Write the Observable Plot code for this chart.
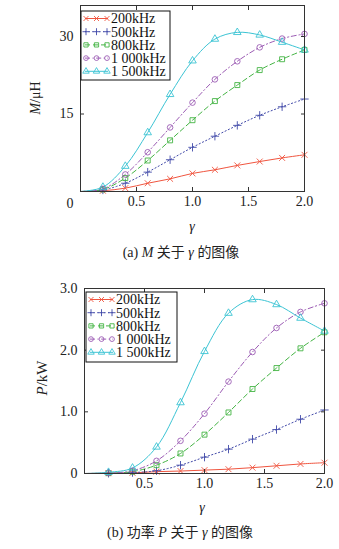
<!DOCTYPE html>
<html><head><meta charset="utf-8">
<script src="https://cdn.jsdelivr.net/npm/d3@7"></script>
<script src="https://cdn.jsdelivr.net/npm/@observablehq/plot@0.6"></script>
<style>
body{margin:0;background:#fff;}
#wrap{position:relative;width:339px;height:549px;font-family:"Liberation Serif","Times New Roman",Tinos,"DejaVu Serif","Noto Sans CJK SC",serif;color:#222;overflow:hidden;}
.abs{position:absolute;white-space:nowrap;line-height:1;}
.chart{position:absolute;left:0;}
</style></head><body><div id="wrap"></div>
<script>
// ---- data ----
const gamma = [0, 0.2, 0.4, 0.6, 0.8, 1.0, 1.2, 1.4, 1.6, 1.8, 2.0];
const series = ["200kHz", "500kHz", "800kHz", "1 000kHz", "1 500kHz"];
// M (μH)
const M200  = [0, 0.15, 0.65, 1.6, 2.45, 3.5, 4.2, 5.05, 5.8, 6.5, 7.1];
const M500  = [0, 0.3, 1.6, 3.75, 6.15, 8.55, 10.7, 12.8, 14.75, 16.4, 17.9];
const M800  = [0, 0.4, 2.6, 6.0, 9.9, 13.8, 17.5, 20.6, 23.5, 25.6, 27.4];
const M1000 = [0, 0.5, 3.3, 7.6, 12.4, 17.2, 21.7, 25.2, 27.9, 29.6, 30.5];
const M1500 = [0, 0.85, 4.9, 11.4, 18.8, 25.3, 29.5, 30.8, 30.3, 28.9, 27.4];
// P (kW)
const P200  = [0, 0.005, 0.01, 0.03, 0.04, 0.055, 0.07, 0.095, 0.125, 0.155, 0.175];
const P500  = [0, 0.003, 0.015, 0.045, 0.135, 0.265, 0.395, 0.557, 0.713, 0.88, 1.03];
const P800  = [0, 0.005, 0.03, 0.135, 0.325, 0.63, 0.99, 1.37, 1.71, 2.03, 2.29];
const P1000 = [0, 0.008, 0.045, 0.205, 0.53, 0.97, 1.49, 1.97, 2.36, 2.62, 2.76];
const P1500 = [0, 0.02, 0.09, 0.43, 1.15, 1.98, 2.6, 2.82, 2.74, 2.52, 2.31];
// ticks
const topXTicks = [0.5, 1.0, 1.5, 2.0];
const topYTicks = [15, 30];
const botXTicks = [0.5, 1.0, 1.5, 2.0];
const botYTicks = [0, 1.0, 2.0, 3.0];

// ---- styles ----
const FONT = '"Liberation Serif","Times New Roman",Tinos,"DejaVu Serif",serif';
const colors = ["#f0553f", "#4048a8", "#44b444", "#9c5cb4", "#3cc4d4"];
const dashes = [null, "1.2,2.4", "5,3", "5,2.5,1.2,2.5", null];
const plotSymbols = ["times", "plus", "square", "circle", "triangle"];
const d3Symbols = [d3.symbolTimes, d3.symbolPlus, d3.symbolSquare, d3.symbolCircle, d3.symbolTriangle];

const wrap = document.getElementById("wrap");

function addText(html, x, y, opts = {}) {
  const d = document.createElement("div");
  d.className = "abs";
  d.innerHTML = html;
  d.style.left = x + "px";
  d.style.top = y + "px";
  d.style.fontSize = (opts.size || 14) + "px";
  d.style.transform = "translate(-50%,-50%)" + (opts.rotate ? ` rotate(${opts.rotate}deg)` : "");
  wrap.appendChild(d);
}

function chart({values, top, height, margins, yDomain, xTicks, yTicks, yFmt, innerX, innerY, corner0, legend}) {
  const data = [];
  series.forEach((s, i) => values[i].forEach((v, j) => data.push({s, i, g: gamma[j], v})));
  const marks = [];
  series.forEach((s, i) => {
    marks.push(Plot.line(data.filter(e => e.i === i), {
      x: "g", y: "v", stroke: colors[i], strokeWidth: 1,
      strokeDasharray: dashes[i], curve: "catmull-rom"
    }));
  });
  series.forEach((s, i) => {
    marks.push(Plot.dot(data.filter(e => e.i === i && e.g > 0), {
      x: "g", y: "v", stroke: colors[i], fill: "none", strokeWidth: 0.9,
      symbol: plotSymbols[i], r: 2.8
    }));
  });
  const blank = () => "";
  marks.push(
    Plot.frame({stroke: "#333", strokeWidth: 1}),
    Plot.axisX({ticks: innerX, tickSize: -4, tickFormat: blank, label: null, stroke: "#333"}),
    Plot.axisX({anchor: "top", ticks: innerX, tickSize: -4, tickFormat: blank, label: null, stroke: "#333"}),
    Plot.axisY({ticks: innerY, tickSize: -4, tickFormat: blank, label: null, stroke: "#333"}),
    Plot.axisY({anchor: "right", ticks: innerY, tickSize: -4, tickFormat: blank, label: null, stroke: "#333"}),
    Plot.axisX({ticks: xTicks, tickSize: 0, tickPadding: 5, tickFormat: d3.format(".1f"), label: null, fill: "#222"}),
    Plot.axisY({ticks: yTicks, tickSize: 0, tickPadding: 7, tickFormat: yFmt, label: null, fill: "#222"})
  );
  if (corner0) {
    marks.push(Plot.text(corner0, {x: d => d, y: d => d, text: d => String(d),
      dx: -7, dy: 12, textAnchor: "end", fill: "#222"}));
  }
  const svg = Plot.plot({
    width: 339, height,
    marginLeft: margins[0], marginRight: margins[1], marginTop: margins[2], marginBottom: margins[3],
    x: {domain: [0, 2]},
    y: {domain: yDomain},
    style: {fontFamily: FONT, fontSize: "14px", color: "#222", background: "white"},
    marks
  });
  const holder = document.createElement("div");
  holder.className = "chart";
  holder.style.top = top + "px";
  holder.appendChild(svg);
  wrap.appendChild(holder);

  // legend (positions relative to this svg)
  const g = d3.select(svg).append("g").attr("transform", `translate(${legend.x},${legend.y})`);
  g.append("rect").attr("x", 0).attr("y", 0).attr("width", legend.w).attr("height", legend.h)
    .attr("fill", "white").attr("stroke", "#111").attr("stroke-width", 1);
  series.forEach((s, i) => {
    const cy = legend.row0 + i * legend.step;
    const row = g.append("g");
    const ln = row.append("line").attr("x1", legend.lx0).attr("x2", legend.lx1).attr("y1", cy).attr("y2", cy)
      .attr("stroke", colors[i]).attr("stroke-width", 1);
    if (dashes[i]) ln.attr("stroke-dasharray", dashes[i]);
    [legend.lx0 + 1, (legend.lx0 + legend.lx1) / 2, legend.lx1 - 1].forEach(mx => {
      row.append("path").attr("d", d3.symbol(d3Symbols[i], 18)())
        .attr("transform", `translate(${mx},${cy})`)
        .attr("fill", "none").attr("stroke", colors[i]).attr("stroke-width", 0.9);
    });
    row.append("text").attr("x", legend.tx).attr("y", cy).attr("dy", "0.35em")
      .attr("text-anchor", "start").attr("fill", "#111").attr("font-size", 14).text(s);
  });
}

chart({
  values: [M200, M500, M800, M1000, M1500],
  top: 0, height: 240, margins: [80, 35, 5, 49],
  yDomain: [0, 36], xTicks: topXTicks, yTicks: topYTicks, yFmt: d3.format("d"),
  innerX: [0.5, 1.0, 1.5], innerY: topYTicks, corner0: [0],
  legend: {x: 81, y: 11, w: 89, h: 69, row0: 7.5, step: 13.2, lx0: 4, lx1: 27, tx: 30}
});

chart({
  values: [P200, P500, P800, P1000, P1500],
  top: 275, height: 243, margins: [84, 15, 13, 45],
  yDomain: [0, 3], xTicks: botXTicks, yTicks: botYTicks,
  yFmt: d => d === 0 ? "0" : d3.format(".1f")(d),
  innerX: [0.5, 1.0, 1.5], innerY: [1.0, 2.0], corner0: null,
  legend: {x: 86, y: 17, w: 91, h: 70, row0: 7.5, step: 13.2, lx0: 4, lx1: 27, tx: 30}
});

// axis titles & captions
addText('<i>M</i>/μH', 36, 98, {rotate: -90});
addText('<i>γ</i>', 192, 227);
addText('(a)&nbsp;<i>M</i> 关于 <i>γ</i> 的图像', 181, 253);
addText('<i>P</i>/kW', 42, 378, {rotate: -90, size: 15});
addText('<i>γ</i>', 202, 508);
addText('(b)&nbsp;功率 <i>P</i> 关于 <i>γ</i> 的图像', 180, 533);
</script></body></html>
